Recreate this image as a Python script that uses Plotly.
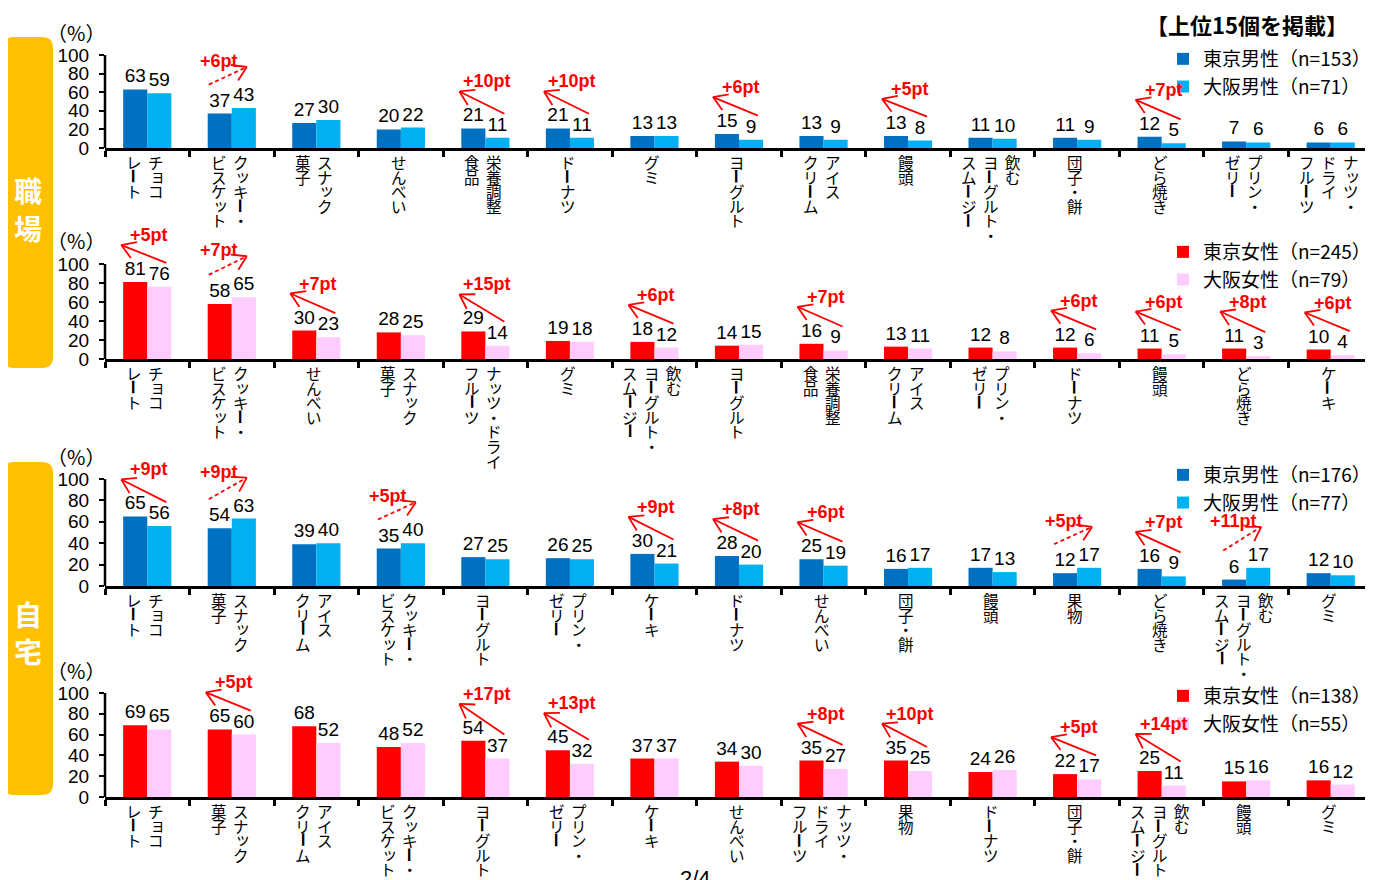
import math
import plotly.graph_objects as go

# ---------------- data ----------------
labels_work_m = ["チョコ\nレート", "クッキー・\nビスケット", "スナック\n菓子", "せんべい", "栄養調整\n食品",
                 "ドーナツ", "グミ", "ヨーグルト", "アイス\nクリーム", "饅頭",
                 "飲む\nヨーグルト・\nスムージー", "団子・餅", "どら焼き", "プリン・\nゼリー", "ナッツ・\nドライ\nフルーツ"]
tokyo_work_m = [63, 37, 27, 20, 21, 21, 13, 15, 13, 13, 11, 11, 12, 7, 6]
osaka_work_m = [59, 43, 30, 22, 11, 11, 13, 9, 9, 8, 10, 9, 5, 6, 6]
note_idx_work_m = [1, 4, 5, 7, 9, 12]
note_txt_work_m = ["+6pt", "+10pt", "+10pt", "+6pt", "+5pt", "+7pt"]

labels_work_f = ["チョコ\nレート", "クッキー・\nビスケット", "せんべい", "スナック\n菓子", "ナッツ・ドライ\nフルーツ",
                 "グミ", "飲む\nヨーグルト・\nスムージー", "ヨーグルト", "栄養調整\n食品", "アイス\nクリーム",
                 "プリン・\nゼリー", "ドーナツ", "饅頭", "どら焼き", "ケーキ"]
tokyo_work_f = [81, 58, 30, 28, 29, 19, 18, 14, 16, 13, 12, 12, 11, 11, 10]
osaka_work_f = [76, 65, 23, 25, 14, 18, 12, 15, 9, 11, 8, 6, 5, 3, 4]
note_idx_work_f = [0, 1, 2, 4, 6, 8, 11, 12, 13, 14]
note_txt_work_f = ["+5pt", "+7pt", "+7pt", "+15pt", "+6pt", "+7pt", "+6pt", "+6pt", "+8pt", "+6pt"]

labels_home_m = ["チョコ\nレート", "スナック\n菓子", "アイス\nクリーム", "クッキー・\nビスケット", "ヨーグルト",
                 "プリン・\nゼリー", "ケーキ", "ドーナツ", "せんべい", "団子・餅",
                 "饅頭", "果物", "どら焼き", "飲む\nヨーグルト・\nスムージー", "グミ"]
tokyo_home_m = [65, 54, 39, 35, 27, 26, 30, 28, 25, 16, 17, 12, 16, 6, 12]
osaka_home_m = [56, 63, 40, 40, 25, 25, 21, 20, 19, 17, 13, 17, 9, 17, 10]
note_idx_home_m = [0, 1, 3, 6, 7, 8, 11, 12, 13]
note_txt_home_m = ["+9pt", "+9pt", "+5pt", "+9pt", "+8pt", "+6pt", "+5pt", "+7pt", "+11pt"]

labels_home_f = ["チョコ\nレート", "スナック\n菓子", "アイス\nクリーム", "クッキー・\nビスケット", "ヨーグルト",
                 "プリン・\nゼリー", "ケーキ", "せんべい", "ナッツ・\nドライ\nフルーツ", "果物",
                 "ドーナツ", "団子・餅", "飲む\nヨーグルト・\nスムージー", "饅頭", "グミ"]
tokyo_home_f = [69, 65, 68, 48, 54, 45, 37, 34, 35, 35, 24, 22, 25, 15, 16]
osaka_home_f = [65, 60, 52, 52, 37, 32, 37, 30, 27, 25, 26, 17, 11, 16, 12]
note_idx_home_f = [1, 4, 5, 8, 9, 11, 12]
note_txt_home_f = ["+5pt", "+17pt", "+13pt", "+8pt", "+10pt", "+5pt", "+14pt"]

names_work_m = ["東京男性（n=153）", "大阪男性（n=71）"]
names_work_f = ["東京女性（n=245）", "大阪女性（n=79）"]
names_home_m = ["東京男性（n=176）", "大阪男性（n=77）"]
names_home_f = ["東京女性（n=138）", "大阪女性（n=55）"]

male_colors = ["#0070C0", "#00B0F0"]
female_colors = ["#FF0000", "#FFCCFF"]

y_ticks = [0, 20, 40, 60, 80, 100]

# ---------------- layout helpers ----------------
OFF = 8                      # page body margin of the html page
FW, FH = 1373 - OFF, 880 - OFF
NUM_FONT = "Liberation Sans, Arial, sans-serif"
JP_FONT = "Noto Sans CJK JP, sans-serif"
X_LEFT = 105
EXT = 125                    # room above 100 for the difference arrows
SMALL_KANA = "ァィゥェォッャュョヮ"

def X(p):
    return (p - OFF) / FW

def Y(p):
    return 1 - (p - OFF) / FH

panels = [
    dict(labels=labels_work_m, tokyo=tokyo_work_m, osaka=osaka_work_m, nidx=note_idx_work_m,
         ntxt=note_txt_work_m, names=names_work_m, colors=male_colors, zero=148, top=55, leg=40),
    dict(labels=labels_work_f, tokyo=tokyo_work_f, osaka=osaka_work_f, nidx=note_idx_work_f,
         ntxt=note_txt_work_f, names=names_work_f, colors=female_colors, zero=359, top=264, leg=233),
    dict(labels=labels_home_m, tokyo=tokyo_home_m, osaka=osaka_home_m, nidx=note_idx_home_m,
         ntxt=note_txt_home_m, names=names_home_m, colors=male_colors, zero=586, top=479, leg=456),
    dict(labels=labels_home_f, tokyo=tokyo_home_f, osaka=osaka_home_f, nidx=note_idx_home_f,
         ntxt=note_txt_home_f, names=names_home_f, colors=female_colors, zero=797, top=693, leg=677),
]

fig = go.Figure()
layout = dict(width=FW, height=FH, margin=dict(l=0, r=0, t=0, b=0, pad=0, autoexpand=False),
              paper_bgcolor="white", plot_bgcolor="white",
              barmode="group", bargap=0.43, bargroupgap=0, showlegend=True)
annotations = []
shapes = []

for n, p in enumerate(panels):
    k = "" if n == 0 else str(n + 1)
    xa, ya = "x" + k, "y" + k
    lg = "legend" + k
    ppu = (p["zero"] - p["top"]) / 100.0
    xs = list(range(len(p["tokyo"])))
    for vals, name, col in zip([p["tokyo"], p["osaka"]], p["names"], p["colors"]):
        fig.add_trace(go.Bar(
            x=xs, y=vals, name=name, marker=dict(color=col, line=dict(width=0)),
            text=[str(v) for v in vals], textposition="outside", constraintext="none",
            textfont=dict(family=NUM_FONT, size=19, color="black"), cliponaxis=False,
            xaxis=xa, yaxis=ya, legend=lg, hoverinfo="skip"))
    layout["xaxis" + k] = dict(domain=[X(X_LEFT), 1], range=[-0.5, 14.5], anchor=ya,
                               showline=True, linecolor="black", linewidth=3,
                               tickvals=[i - 0.5 for i in range(16)], ticktext=[""] * 16,
                               ticks="outside", ticklen=6, tickwidth=3, tickcolor="black",
                               showgrid=False, zeroline=False, fixedrange=True)
    layout["yaxis" + k] = dict(domain=[Y(p["zero"]), Y(p["zero"] - EXT * ppu)], range=[0, EXT],
                               anchor=xa, showline=False,
                               tickvals=y_ticks, ticks="outside", ticklen=5,
                               tickwidth=2, tickcolor="black", ticklabelstandoff=6,
                               tickfont=dict(family=NUM_FONT, size=19, color="black"),
                               showgrid=False, zeroline=False, fixedrange=True)
    # y axis line from 0 to 100 only
    shapes.append(dict(type="line", xref="paper", yref=ya, x0=X(X_LEFT), x1=X(X_LEFT),
                       y0=0, y1=y_ticks[-1], line=dict(color="black", width=2.5), layer="above"))
    layout[lg] = dict(x=X(1163), xanchor="left", y=Y(p["leg"]), yanchor="top",
                      bgcolor="rgba(0,0,0,0)", font=dict(family=JP_FONT, size=19, color="black"),
                      tracegroupgap=0, itemwidth=30)
    # (%) label
    annotations.append(dict(xref="paper", yref="paper", x=X(76), y=Y(p["top"] - 23),
                            text="（%）", showarrow=False, xanchor="center", yanchor="middle",
                            font=dict(family=JP_FONT, size=20, color="black")))
    # vertical category labels (tategaki, columns right to left)
    for i, lab in enumerate(p["labels"]):
        cols = lab.split("\n")
        nc = len(cols)
        for c, colt in enumerate(cols):
            xoff = ((nc - 1) / 2 - c) * 22 - 2
            for j, ch in enumerate(colt):
                ann = dict(xref=xa, yref=ya, x=i, y=0, xshift=xoff,
                           yshift=-(14 + j * 14.6), text=ch, showarrow=False,
                           xanchor="center", yanchor="middle",
                           font=dict(family=JP_FONT, size=15.5, color="black"))
                if ch == "ー":
                    ann["textangle"] = 90
                    ann["font"] = dict(family=JP_FONT, size=15.5, color="black", weight="bold")
                elif ch in SMALL_KANA:
                    ann["xshift"] = xoff + 2
                    ann["yshift"] = ann["yshift"] + 2
                annotations.append(ann)
    # difference arrows
    for i, txt in zip(p["nidx"], p["ntxt"]):
        vt, vo = p["tokyo"][i], p["osaka"][i]
        if vt >= vo:
            tip = (-26, vt * ppu + 37)
            tail = (19, vo * ppu + 24)
            dash = "solid"
            tx, tyv, tys = 2, vt, 47
        else:
            tip = (15, vo * ppu + 41)
            tail = (-23, vt * ppu + 29)
            dash = "4px,3px"
            tx, tyv, tys = -13, vo, 47
        base = dict(type="line", xref=xa, yref=ya, xsizemode="pixel", ysizemode="pixel",
                    xanchor=i, yanchor=0, layer="above")
        shapes.append(dict(base, x0=tail[0], y0=tail[1], x1=tip[0], y1=tip[1],
                           line=dict(color="red", width=1.8, dash=dash)))
        ang = math.atan2(tail[1] - tip[1], tail[0] - tip[0])
        for s in (-1, 1):
            a = ang + s * math.radians(32)
            shapes.append(dict(base, x0=tip[0], y0=tip[1],
                               x1=tip[0] + 16 * math.cos(a), y1=tip[1] + 16 * math.sin(a),
                               line=dict(color="red", width=1.8)))
        annotations.append(dict(xref=xa, yref=ya, x=i, y=tyv, xshift=tx, yshift=tys, text=txt,
                                showarrow=False, xanchor="center", yanchor="middle",
                                font=dict(family=NUM_FONT, size=18, color="red", weight="bold")))

# side boxes
def rrect(x0, y0, x1, y1, r):
    return (f"M {X(x0 + r)},{Y(y0)} L {X(x1 - r)},{Y(y0)} Q {X(x1)},{Y(y0)} {X(x1)},{Y(y0 + r)} "
            f"L {X(x1)},{Y(y1 - r)} Q {X(x1)},{Y(y1)} {X(x1 - r)},{Y(y1)} "
            f"L {X(x0 + r)},{Y(y1)} Q {X(x0)},{Y(y1)} {X(x0)},{Y(y1 - r)} "
            f"L {X(x0)},{Y(y0 + r)} Q {X(x0)},{Y(y0)} {X(x0 + r)},{Y(y0)} Z")

for (y0, y1, chars, cys) in [(37, 368, "職場", (190, 228)), (462, 795, "自宅", (614, 651))]:
    shapes.append(dict(type="path", xref="paper", yref="paper", path=rrect(3, y0, 53, y1, 11),
                       fillcolor="#FFC000", line=dict(width=0), layer="below"))
    for ch, cy in zip(chars, cys):
        annotations.append(dict(xref="paper", yref="paper", x=X(28), y=Y(cy), text=ch,
                                showarrow=False, xanchor="center", yanchor="middle",
                                font=dict(family=JP_FONT, size=28, color="white", weight="bold")))

annotations.append(dict(xref="paper", yref="paper", x=X(1247), y=Y(24), text="【上位15個を掲載】",
                        showarrow=False, xanchor="center", yanchor="middle",
                        font=dict(family=JP_FONT, size=22, color="black", weight="bold")))
annotations.append(dict(xref="paper", yref="paper", x=X(695), y=Y(864), text="2/4",
                        showarrow=False, xanchor="center", yanchor="top",
                        font=dict(family=NUM_FONT, size=22, color="black")))

layout["annotations"] = annotations
layout["shapes"] = shapes
fig.update_layout(**layout)
fig.write_html("out.html")
